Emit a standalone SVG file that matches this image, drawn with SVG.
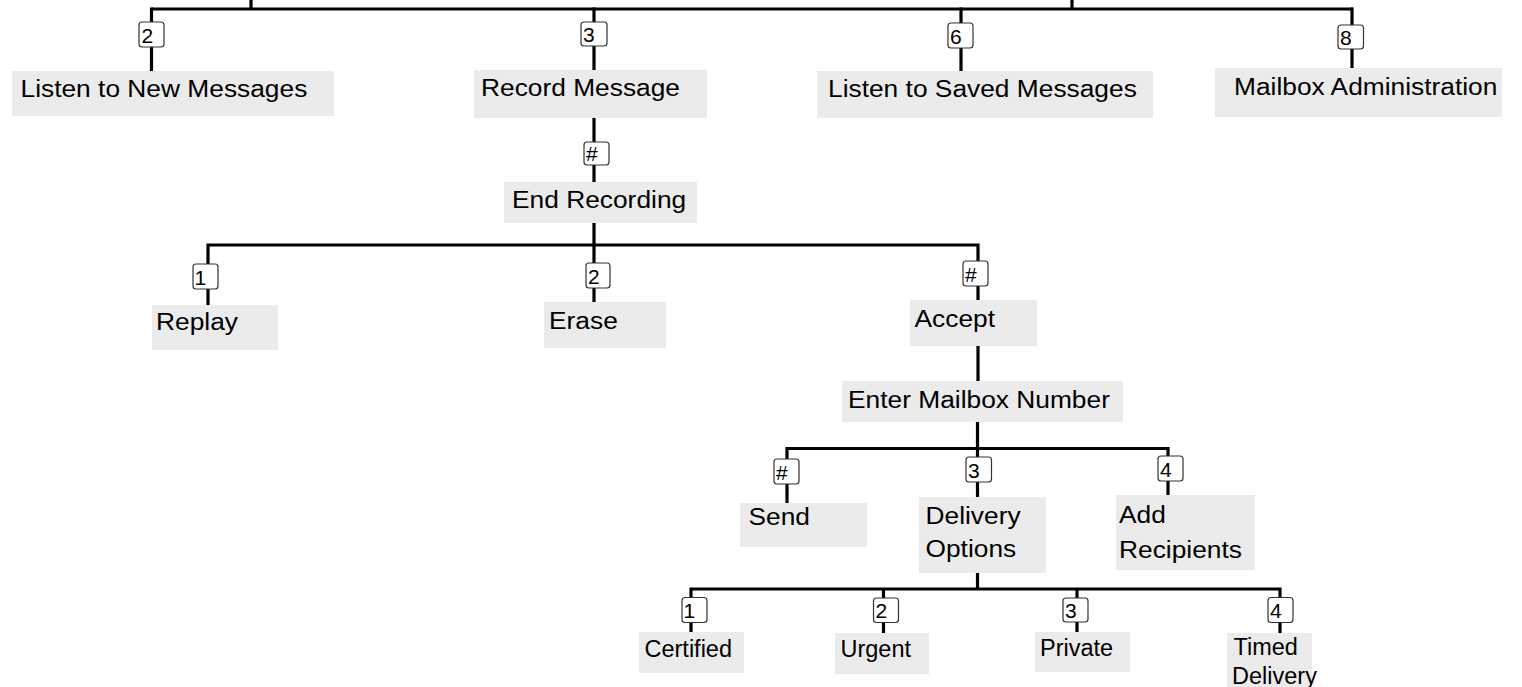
<svg xmlns="http://www.w3.org/2000/svg" width="1522" height="687" viewBox="0 0 1522 687">
<style>
.bg{fill:#ffffff}
.box{fill:#ebebeb}
.lbl{font-family:"Liberation Sans",Arial,Helvetica,sans-serif;font-size:23.3px;fill:#000}
.sm{font-family:"Liberation Sans",Arial,Helvetica,sans-serif;font-size:23.5px;fill:#000}
.key rect{fill:#fff;stroke:#333;stroke-width:1.2}
.key text{font-family:"Liberation Sans",Arial,Helvetica,sans-serif;font-size:21px;fill:#000}
.wire{stroke:#000;stroke-width:3.2;fill:none;stroke-linecap:butt}
</style>
<rect class="bg" x="0" y="0" width="1522" height="687"/>

<g id="connectors">
  <path class="wire" d="M151.5 9 H1353 M251 0 V10.5 M1072 0 V10.5"/>
  <path class="wire" d="M151.5 7.5 V71 M594 7.5 V70 M961 7.5 V71 M1352 7.5 V68"/>
  <path class="wire" d="M594 118 V182"/>
  <path class="wire" d="M594 223 V302 M208 245 H978 M208 243.5 V305 M978 243.5 V300"/>
  <path class="wire" d="M978 346 V381"/>
  <path class="wire" d="M977.5 422 V497 M787 448.5 H1168 M787 447 V503 M1168 447 V495"/>
  <path class="wire" d="M977.5 573 V589 M691 589 H1280 M691 587.5 V632 M883.5 587.5 V633 M1077 587.5 V632 M1280 587.5 V633"/>
</g>

<g id="keys">
  <g id="key-2-top" class="key"><rect x="139" y="22" width="25" height="25" rx="3"/><text x="141.5" y="42.5">2</text></g>
  <g id="key-3-top" class="key"><rect x="581" y="22" width="26" height="24" rx="3"/><text x="583" y="42">3</text></g>
  <g id="key-6-top" class="key"><rect x="948" y="23" width="25" height="25" rx="3"/><text x="950" y="43.5">6</text></g>
  <g id="key-8-top" class="key"><rect x="1338" y="25" width="25.5" height="24" rx="3"/><text x="1340" y="45">8</text></g>
  <g id="key-hash-record" class="key"><rect x="584" y="142" width="25" height="23" rx="3"/><text x="586" y="161">#</text></g>
  <g id="key-1-replay" class="key"><rect x="193" y="264" width="25" height="25" rx="3"/><text x="194.5" y="284.5">1</text></g>
  <g id="key-2-erase" class="key"><rect x="586" y="263" width="24" height="25" rx="3"/><text x="588" y="283.5">2</text></g>
  <g id="key-hash-accept" class="key"><rect x="963" y="261" width="25" height="25" rx="3"/><text x="965" y="281.5">#</text></g>
  <g id="key-hash-send" class="key"><rect x="774" y="459" width="25" height="25" rx="3"/><text x="776" y="479.5">#</text></g>
  <g id="key-3-delivery" class="key"><rect x="966" y="457" width="25.5" height="25" rx="3"/><text x="968" y="477.5">3</text></g>
  <g id="key-4-add" class="key"><rect x="1158" y="456" width="25" height="25" rx="3"/><text x="1160" y="476.5">4</text></g>
  <g id="key-1-certified" class="key"><rect x="682" y="597.5" width="25" height="25" rx="3"/><text x="683.5" y="618">1</text></g>
  <g id="key-2-urgent" class="key"><rect x="873.5" y="598" width="25" height="24.5" rx="3"/><text x="875.5" y="618">2</text></g>
  <g id="key-3-private" class="key"><rect x="1063" y="598" width="25" height="24" rx="3"/><text x="1065" y="618">3</text></g>
  <g id="key-4-timed" class="key"><rect x="1268" y="597.5" width="25" height="25" rx="3"/><text x="1270" y="618">4</text></g>
</g>

<g id="node-listen-new"><rect class="box" x="12" y="71" width="322" height="45"/><text class="lbl" transform="translate(20.5 97.3) scale(1.13 1)">Listen to New Messages</text></g>
<g id="node-record"><rect class="box" x="474" y="70" width="233" height="48"/><text class="lbl" transform="translate(481 96.3) scale(1.13 1)">Record Message</text></g>
<g id="node-listen-saved"><rect class="box" x="817" y="71" width="336" height="47"/><text class="lbl" transform="translate(828 97.3) scale(1.13 1)">Listen to Saved Messages</text></g>
<g id="node-mailbox-admin"><rect class="box" x="1215" y="68" width="287" height="49"/><text class="lbl" transform="translate(1234 95) scale(1.13 1)">Mailbox Administration</text></g>
<g id="node-end-recording"><rect class="box" x="504" y="182" width="193" height="41"/><text class="lbl" transform="translate(512 208) scale(1.13 1)">End Recording</text></g>
<g id="node-replay"><rect class="box" x="152" y="305" width="126" height="45"/><text class="lbl" transform="translate(156 329.5) scale(1.13 1)">Replay</text></g>
<g id="node-erase"><rect class="box" x="544" y="302" width="122" height="46"/><text class="lbl" transform="translate(549 329) scale(1.13 1)">Erase</text></g>
<g id="node-accept"><rect class="box" x="910" y="300" width="127" height="46"/><text class="lbl" transform="translate(914.5 326.5) scale(1.13 1)">Accept</text></g>
<g id="node-enter-mailbox"><rect class="box" x="842" y="381" width="281" height="41"/><text class="lbl" transform="translate(848 408.3) scale(1.13 1)">Enter Mailbox Number</text></g>
<g id="node-send"><rect class="box" x="740" y="503" width="127" height="44"/><text class="lbl" transform="translate(748.5 525) scale(1.13 1)">Send</text></g>
<g id="node-delivery-options"><rect class="box" x="919" y="497" width="127" height="76"/><text class="lbl" transform="translate(925.5 523.5) scale(1.13 1)"><tspan x="0" y="0">Delivery</tspan><tspan x="0" y="34">Options</tspan></text></g>
<g id="node-add-recipients"><rect class="box" x="1116" y="495" width="139" height="75"/><text class="lbl" transform="translate(1119 523.3) scale(1.13 1)"><tspan x="0" y="0">Add</tspan><tspan x="0" y="34.4">Recipients</tspan></text></g>
<g id="node-certified"><rect class="box" x="639" y="632" width="105" height="41"/><text class="sm" x="644.5" y="657">Certified</text></g>
<g id="node-urgent"><rect class="box" x="835" y="633" width="94" height="41"/><text class="sm" x="840.5" y="657.3">Urgent</text></g>
<g id="node-private"><rect class="box" x="1035" y="632" width="95" height="40"/><text class="sm" x="1040" y="656">Private</text></g>
<g id="node-timed-delivery"><rect class="box" x="1227" y="633" width="85" height="54"/><text class="sm"><tspan x="1233.5" y="655">Timed</tspan><tspan x="1232" y="684">Delivery</tspan></text></g>
</svg>
